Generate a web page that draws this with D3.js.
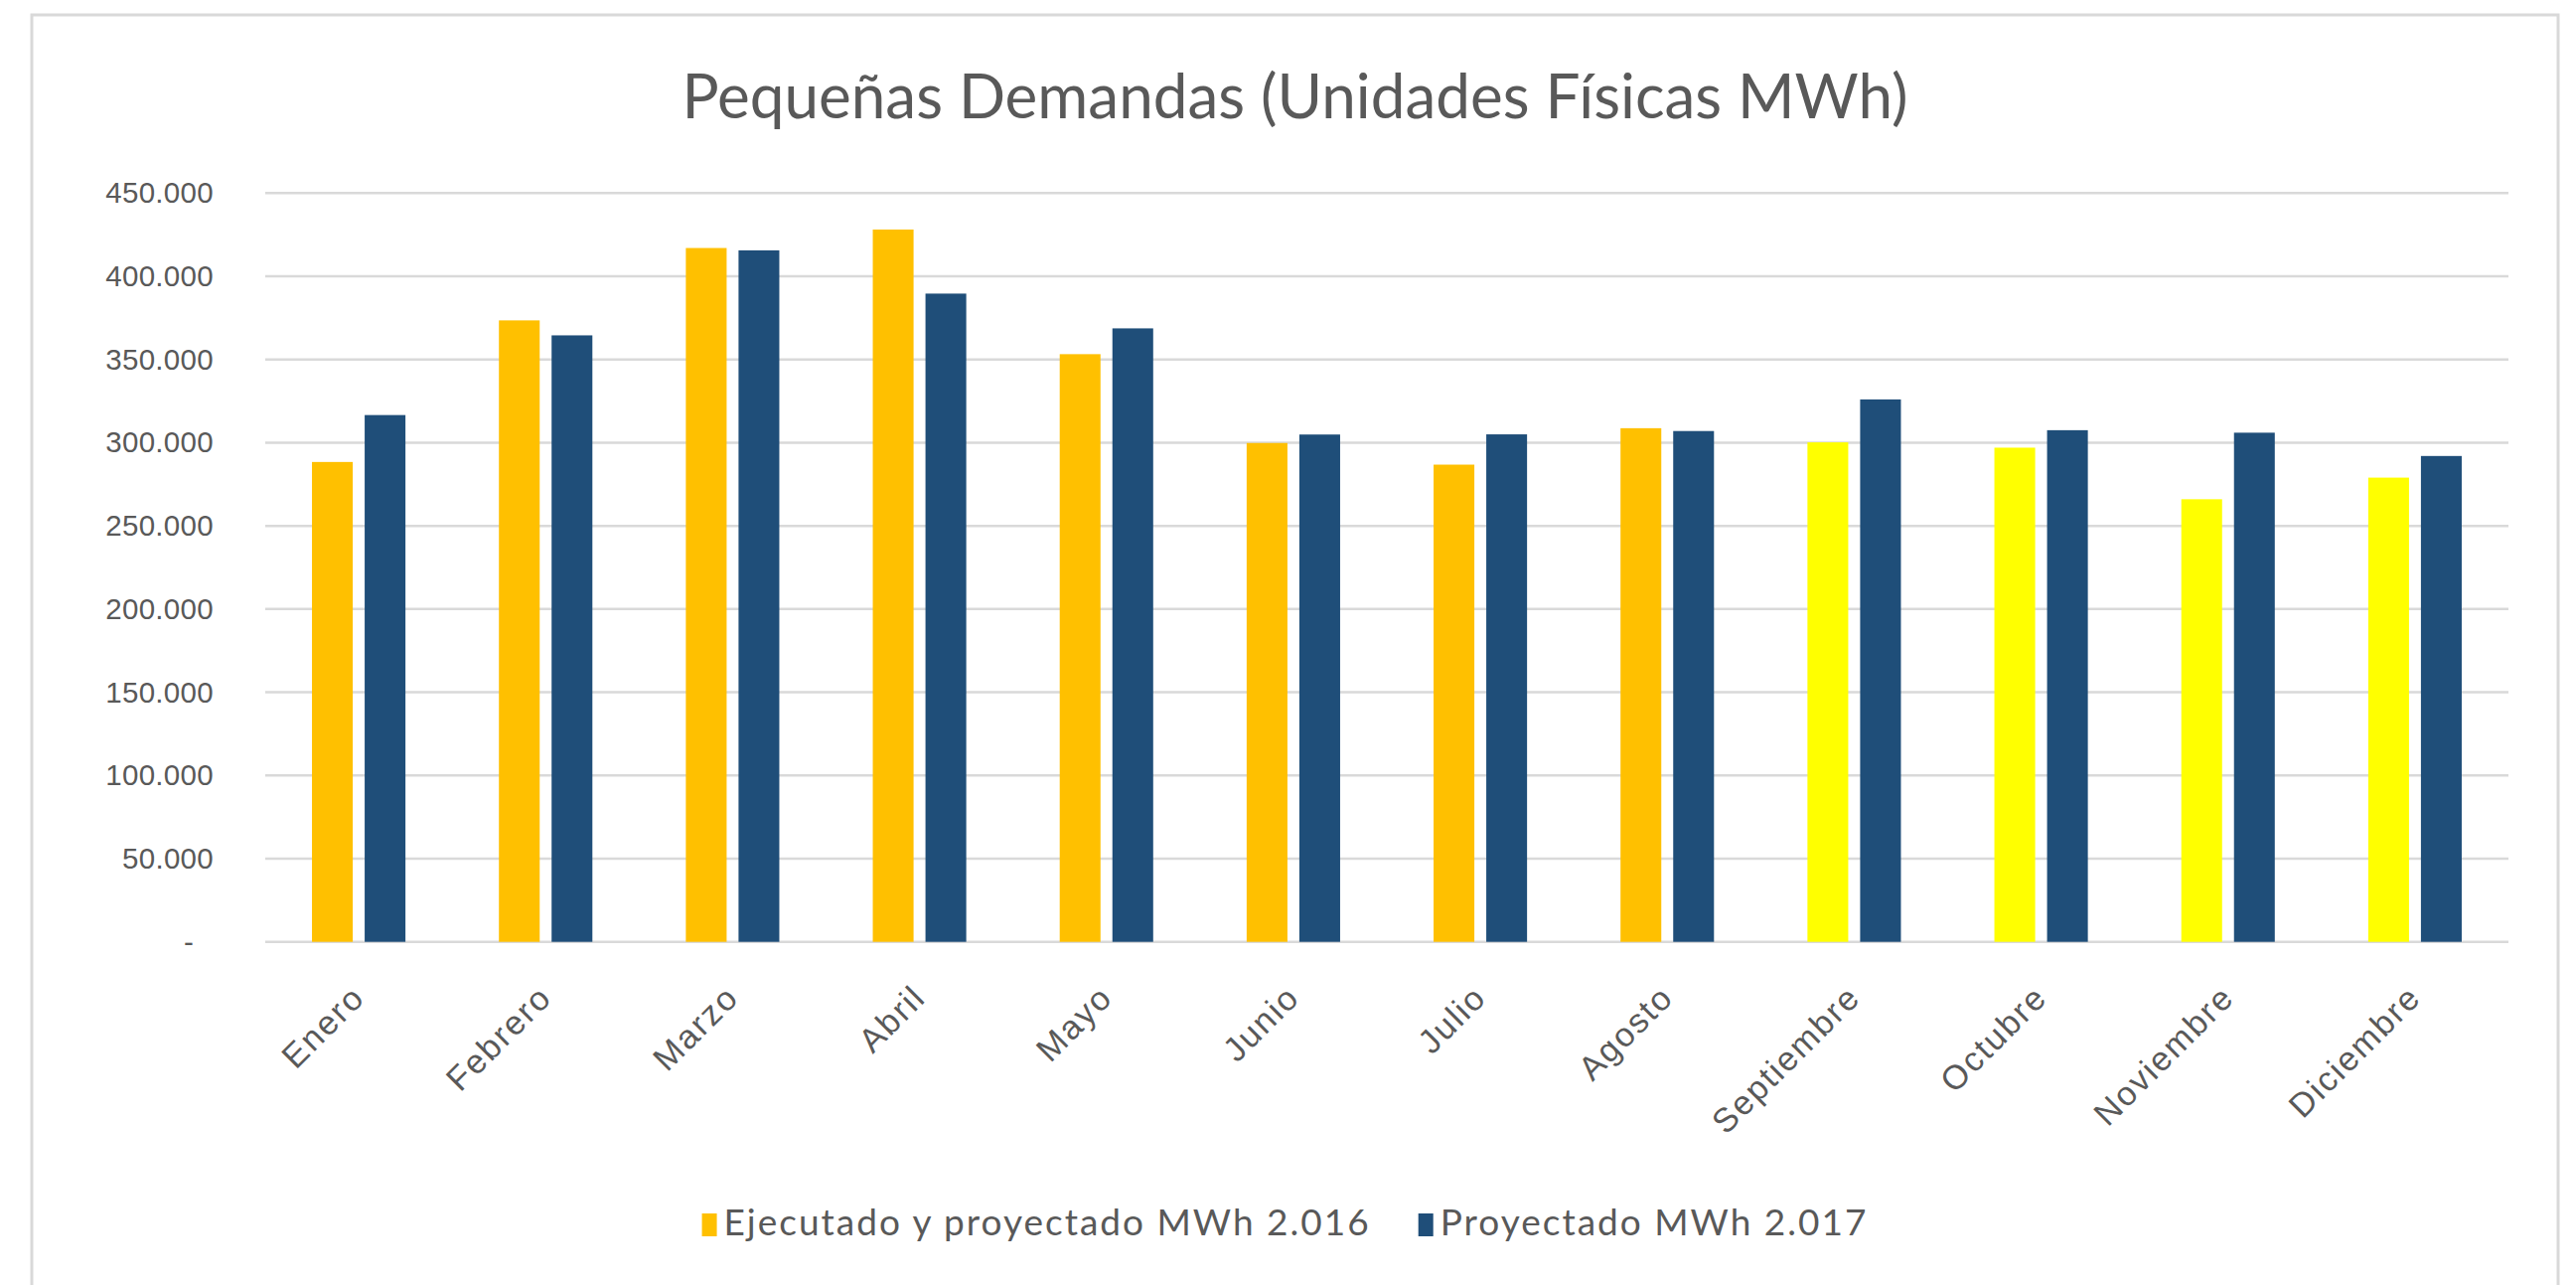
<!DOCTYPE html>
<html lang="es">
<head>
<meta charset="utf-8">
<title>Pequeñas Demandas (Unidades Físicas MWh)</title>
<script src="https://cdn.jsdelivr.net/npm/d3@7"></script>
<style>
  body { margin: 0; background: #fff; }
  svg { display: block; font-family: Lato, 'Open Sans', sans-serif; }
  .axis text { fill: #595959; font-size: 34px; letter-spacing: 2px; }
  .y-axis text { font-size: 29.5px; letter-spacing: 0.3px; }
  .axis .domain, .axis .tick line { display: none; }
  .grid line { stroke: #d9d9d9; stroke-width: 2.5; }
  .legend text { fill: #595959; font-size: 37px; letter-spacing: 2px; }
</style>
</head>
<body>
<div id="chart"></div>
<script>
var titulo = 'Pequeñas Demandas (Unidades Físicas MWh)';
var meses = ['Enero', 'Febrero', 'Marzo', 'Abril', 'Mayo', 'Junio', 'Julio', 'Agosto',
  'Septiembre', 'Octubre', 'Noviembre', 'Diciembre'];
var series = ['Ejecutado y proyectado MWh 2.016', 'Proyectado MWh 2.017'];
var valores2016 = [288400, 373500, 417000, 428100, 353200, 299800, 286800, 308700, 300200, 297000, 266000, 279000];
var valores2017 = [316600, 364500, 415600, 389600, 368700, 304900, 305000, 307000, 326000, 307500, 306000, 292000];
// 2016: meses ya ejecutados vs. proyectados
var estado2016 = ['ejecutado', 'ejecutado', 'ejecutado', 'ejecutado', 'ejecutado', 'ejecutado', 'ejecutado', 'ejecutado',
  'proyectado', 'proyectado', 'proyectado', 'proyectado'];
var yTicks = [0, 50000, 100000, 150000, 200000, 250000, 300000, 350000, 400000, 450000];

var width = 2593;
var height = 1293;
var frame = { left: 32, top: 15, right: 2575 };
var plot = { left: 267, right: 2525, top: 194.3, bottom: 947.7 };
var centerX = (frame.left + frame.right) / 2;

var colorEstado = d3.scaleOrdinal().domain(['ejecutado', 'proyectado']).range(['#FFC000', '#FFFF00']);
var color2017 = '#1F4E79';

var es = d3.formatLocale({ decimal: ',', thousands: '.', grouping: [3], currency: ['', ''] });
var fmt = es.format(',d');

var svg = d3.select('#chart')
  .append('svg')
  .attr('width', width)
  .attr('height', height);

// Chart area border (the bottom edge runs off the picture).
svg.append('rect')
  .attr('x', frame.left)
  .attr('y', frame.top)
  .attr('width', frame.right - frame.left)
  .attr('height', height)
  .attr('fill', '#fff')
  .attr('stroke', '#d9d9d9')
  .attr('stroke-width', 3);

var x0 = d3.scaleBand()
  .domain(meses)
  .range([plot.left, plot.right])
  .paddingInner(0.5)
  .paddingOuter(0.25);

var x1 = d3.scaleBand()
  .domain([0, 1])
  .range([0, x0.bandwidth()])
  .paddingInner(0.226);

var y = d3.scaleLinear()
  .domain([0, 450000])
  .range([plot.bottom, plot.top]);

svg.append('g')
  .attr('class', 'grid')
  .selectAll('line')
  .data(yTicks)
  .enter().append('line')
  .attr('x1', plot.left)
  .attr('x2', plot.right)
  .attr('y1', function(d) { return y(d); })
  .attr('y2', function(d) { return y(d); });

var yAxis = d3.axisLeft(y)
  .tickValues(yTicks)
  .tickSize(0)
  .tickPadding(52)
  .tickFormat(function(d) { return d === 0 ? '-' : fmt(d); });

var yAxisG = svg.append('g')
  .attr('class', 'axis y-axis')
  .attr('transform', 'translate(' + plot.left + ',0)')
  .call(yAxis);
// accounting format: the dash for zero sits further left
yAxisG.selectAll('.tick text')
  .filter(function(d) { return d === 0; })
  .attr('x', -72);

var xAxis = d3.axisBottom(x0).tickSize(0).tickPadding(0);
var xAxisG = svg.append('g')
  .attr('class', 'axis x-axis')
  .attr('transform', 'translate(0,' + plot.bottom + ')')
  .call(xAxis);
xAxisG.selectAll('.tick text')
  .attr('y', 0)
  .attr('dy', null)
  .attr('transform', 'translate(8,58) rotate(-45)')
  .style('text-anchor', 'end');

var filas = meses.map(function(m, i) {
  return {
    mes: m,
    barras: [
      { serie: 0, valor: valores2016[i], color: colorEstado(estado2016[i]) },
      { serie: 1, valor: valores2017[i], color: color2017 }
    ]
  };
});

svg.append('g')
  .attr('class', 'bars')
  .selectAll('g')
  .data(filas)
  .enter().append('g')
  .attr('transform', function(d) { return 'translate(' + x0(d.mes) + ',0)'; })
  .selectAll('rect')
  .data(function(d) { return d.barras; })
  .enter().append('rect')
  .attr('x', function(d) { return x1(d.serie); })
  .attr('width', x1.bandwidth())
  .attr('y', function(d) { return y(d.valor); })
  .attr('height', function(d) { return y(0) - y(d.valor); })
  .attr('fill', function(d) { return d.color; });

svg.append('text')
  .attr('x', centerX)
  .attr('y', 119)
  .attr('text-anchor', 'middle')
  .attr('fill', '#595959')
  .style('font-size', '62px')
  .text(titulo);

// Legend, centred under the chart.
var legendColors = [colorEstado('ejecutado'), color2017];
var legend = svg.append('g').attr('class', 'legend');
var items = legend.selectAll('g')
  .data(series)
  .enter().append('g');
items.append('rect')
  .attr('y', 1221)
  .attr('width', 15)
  .attr('height', 23)
  .attr('fill', function(d, i) { return legendColors[i]; });
items.append('text')
  .attr('x', 22)
  .attr('y', 1243)
  .text(function(d) { return d; });

var offset = 0;
var pos = [];
items.each(function(d, i) {
  pos.push(offset);
  offset += 22 + d3.select(this).select('text').node().getComputedTextLength() + (i < series.length - 1 ? 48 : 0);
});
var startX = centerX - 10 - offset / 2;
items.attr('transform', function(d, i) { return 'translate(' + (startX + pos[i]) + ',0)'; });
</script>
</body>
</html>
